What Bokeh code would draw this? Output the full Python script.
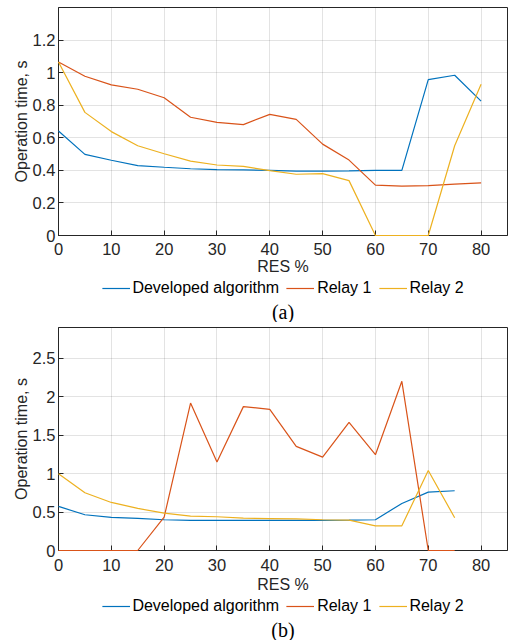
from bokeh.plotting import figure
from bokeh.models import (Range1d, FixedTicker, CustomJSTickFormatter, Legend,
                          LegendItem, Title)
from bokeh.layouts import column
from bokeh.embed import file_html
from bokeh.resources import INLINE

# ---------------- data ----------------
res = [0, 5, 10, 15, 20, 25, 30, 35, 40, 45, 50, 55, 60, 65, 70, 75, 80]

a_dev = [0.642, 0.498, 0.462, 0.429, 0.419, 0.41, 0.405, 0.403, 0.40, 0.395,
         0.395, 0.397, 0.40, 0.40, 0.957, 0.984, 0.825]
a_relay1 = [1.065, 0.978, 0.925, 0.898, 0.846, 0.726, 0.695, 0.681, 0.744,
            0.713, 0.561, 0.463, 0.309, 0.303, 0.306, 0.315, 0.323]
a_relay2 = [1.065, 0.756, 0.638, 0.551, 0.502, 0.457, 0.433, 0.425, 0.398,
            0.376, 0.38, 0.337, 0.0, 0.0, 0.0, 0.551, 0.929]

res_b = [0, 5, 10, 15, 20, 25, 30, 35, 40, 45, 50, 55, 60, 65, 70, 75]
b_dev = [0.573, 0.465, 0.43, 0.417, 0.40, 0.393, 0.393, 0.393, 0.393, 0.393,
         0.393, 0.395, 0.40, 0.612, 0.759, 0.777]
b_relay1 = [0.0, 0.0, 0.0, 0.0, 0.434, 1.918, 1.15, 1.871, 1.836, 1.354,
            1.215, 1.667, 1.246, 2.2, 0.0, 0.0]
b_relay2 = [0.998, 0.751, 0.625, 0.547, 0.486, 0.447, 0.439, 0.42, 0.415,
            0.41, 0.40, 0.395, 0.321, 0.321, 1.04, 0.426]

x_ticks = [0, 10, 20, 30, 40, 50, 60, 70, 80]
a_y_ticks = [0, 0.2, 0.4, 0.6, 0.8, 1, 1.2]
b_y_ticks = [0, 0.5, 1, 1.5, 2, 2.5]
series_names = ["Developed algorithm", "Relay 1", "Relay 2"]
captions = ["(a)", "(b)"]

COLORS = ["#0072BD", "#D95319", "#EDB120"]
AX = "#262626"
FONT = "Liberation Sans"


def make_plot(x, ys, ymax, yticks, frame_h, top_border, tick_sd, lab_sd):
    p = figure(frame_width=449, frame_height=frame_h, output_backend="svg",
               toolbar_location=None, x_range=Range1d(0, 85),
               y_range=Range1d(0, ymax), min_border_left=58,
               min_border_right=1, min_border_top=top_border,
               min_border_bottom=0)
    p.outline_line_color = AX
    p.outline_line_width = 1

    p.xaxis.ticker = FixedTicker(ticks=x_ticks)
    p.yaxis.ticker = FixedTicker(ticks=yticks)
    p.yaxis.formatter = CustomJSTickFormatter(
        code="return String(Math.round(tick*10)/10);")
    p.xaxis.axis_label = "RES %"
    p.yaxis.axis_label = "Operation time, s"
    for ax in (p.xaxis, p.yaxis):
        ax.axis_line_color = AX
        ax.major_tick_line_color = AX
        ax.major_tick_in = 5
        ax.major_tick_out = 0
        ax.minor_tick_line_color = None
        ax.major_label_text_font = FONT
        ax.major_label_text_font_size = "16.5px"
        ax.major_label_text_color = AX
        ax.axis_label_text_font = FONT
        ax.axis_label_text_font_size = "16px"
        ax.axis_label_text_font_style = "normal"
        ax.axis_label_text_color = AX
    p.xaxis.major_label_standoff = tick_sd
    p.xaxis.axis_label_standoff = lab_sd
    p.yaxis.major_label_standoff = 3
    p.yaxis.axis_label_standoff = 0

    p.grid.grid_line_color = AX
    p.grid.grid_line_alpha = 0.13
    p.grid.grid_line_width = 1

    for yv, c in zip(ys, COLORS):
        p.line(x, yv, line_color=c, line_width=1.2, level="overlay")
    return p


def make_legend(x, ys, caption, height):
    # the series are drawn out of view; only their legend entries show
    q = figure(width=508, height=height, output_backend="svg",
               toolbar_location=None, x_axis_location=None,
               y_axis_location=None, x_range=Range1d(-2, -1),
               y_range=Range1d(0, 1), min_border_left=58,
               min_border_right=1, min_border_top=0, min_border_bottom=0)
    q.grid.grid_line_color = None
    q.outline_line_color = None
    items = []
    for yv, c, name in zip(ys, COLORS, series_names):
        r = q.line(x, yv, line_color=c, line_width=1.2)
        items.append(LegendItem(label=name, renderers=[r]))
    legend = Legend(items=items, orientation="horizontal", location="center",
                    border_line_color=None, background_fill_alpha=0,
                    label_text_font=FONT, label_text_font_size="16px",
                    label_text_color="black", glyph_width=28,
                    label_standoff=3, spacing=7, padding=0, margin=0,
                    label_height=18, glyph_height=18)
    q.add_layout(legend, "center")
    q.add_layout(Title(text=caption, align="center",
                       text_font="Liberation Serif", text_font_size="20px",
                       text_font_style="normal", text_color="black",
                       standoff=0), "below")
    return q


p1 = make_plot(res, [a_dev, a_relay1, a_relay2], 1.4, a_y_ticks, 228, 7, 7, 0)
l1 = make_legend(res, [a_dev, a_relay1, a_relay2], captions[0], 45)
p2 = make_plot(res_b, [b_dev, b_relay1, b_relay2], 2.9, b_y_ticks, 223, 5, 8, 2)
l2 = make_legend(res_b, [b_dev, b_relay1, b_relay2], captions[1], 45)

layout = column(p1, l1, p2, l2, spacing=0)
open("out.html", "w").write(file_html(layout, INLINE))
